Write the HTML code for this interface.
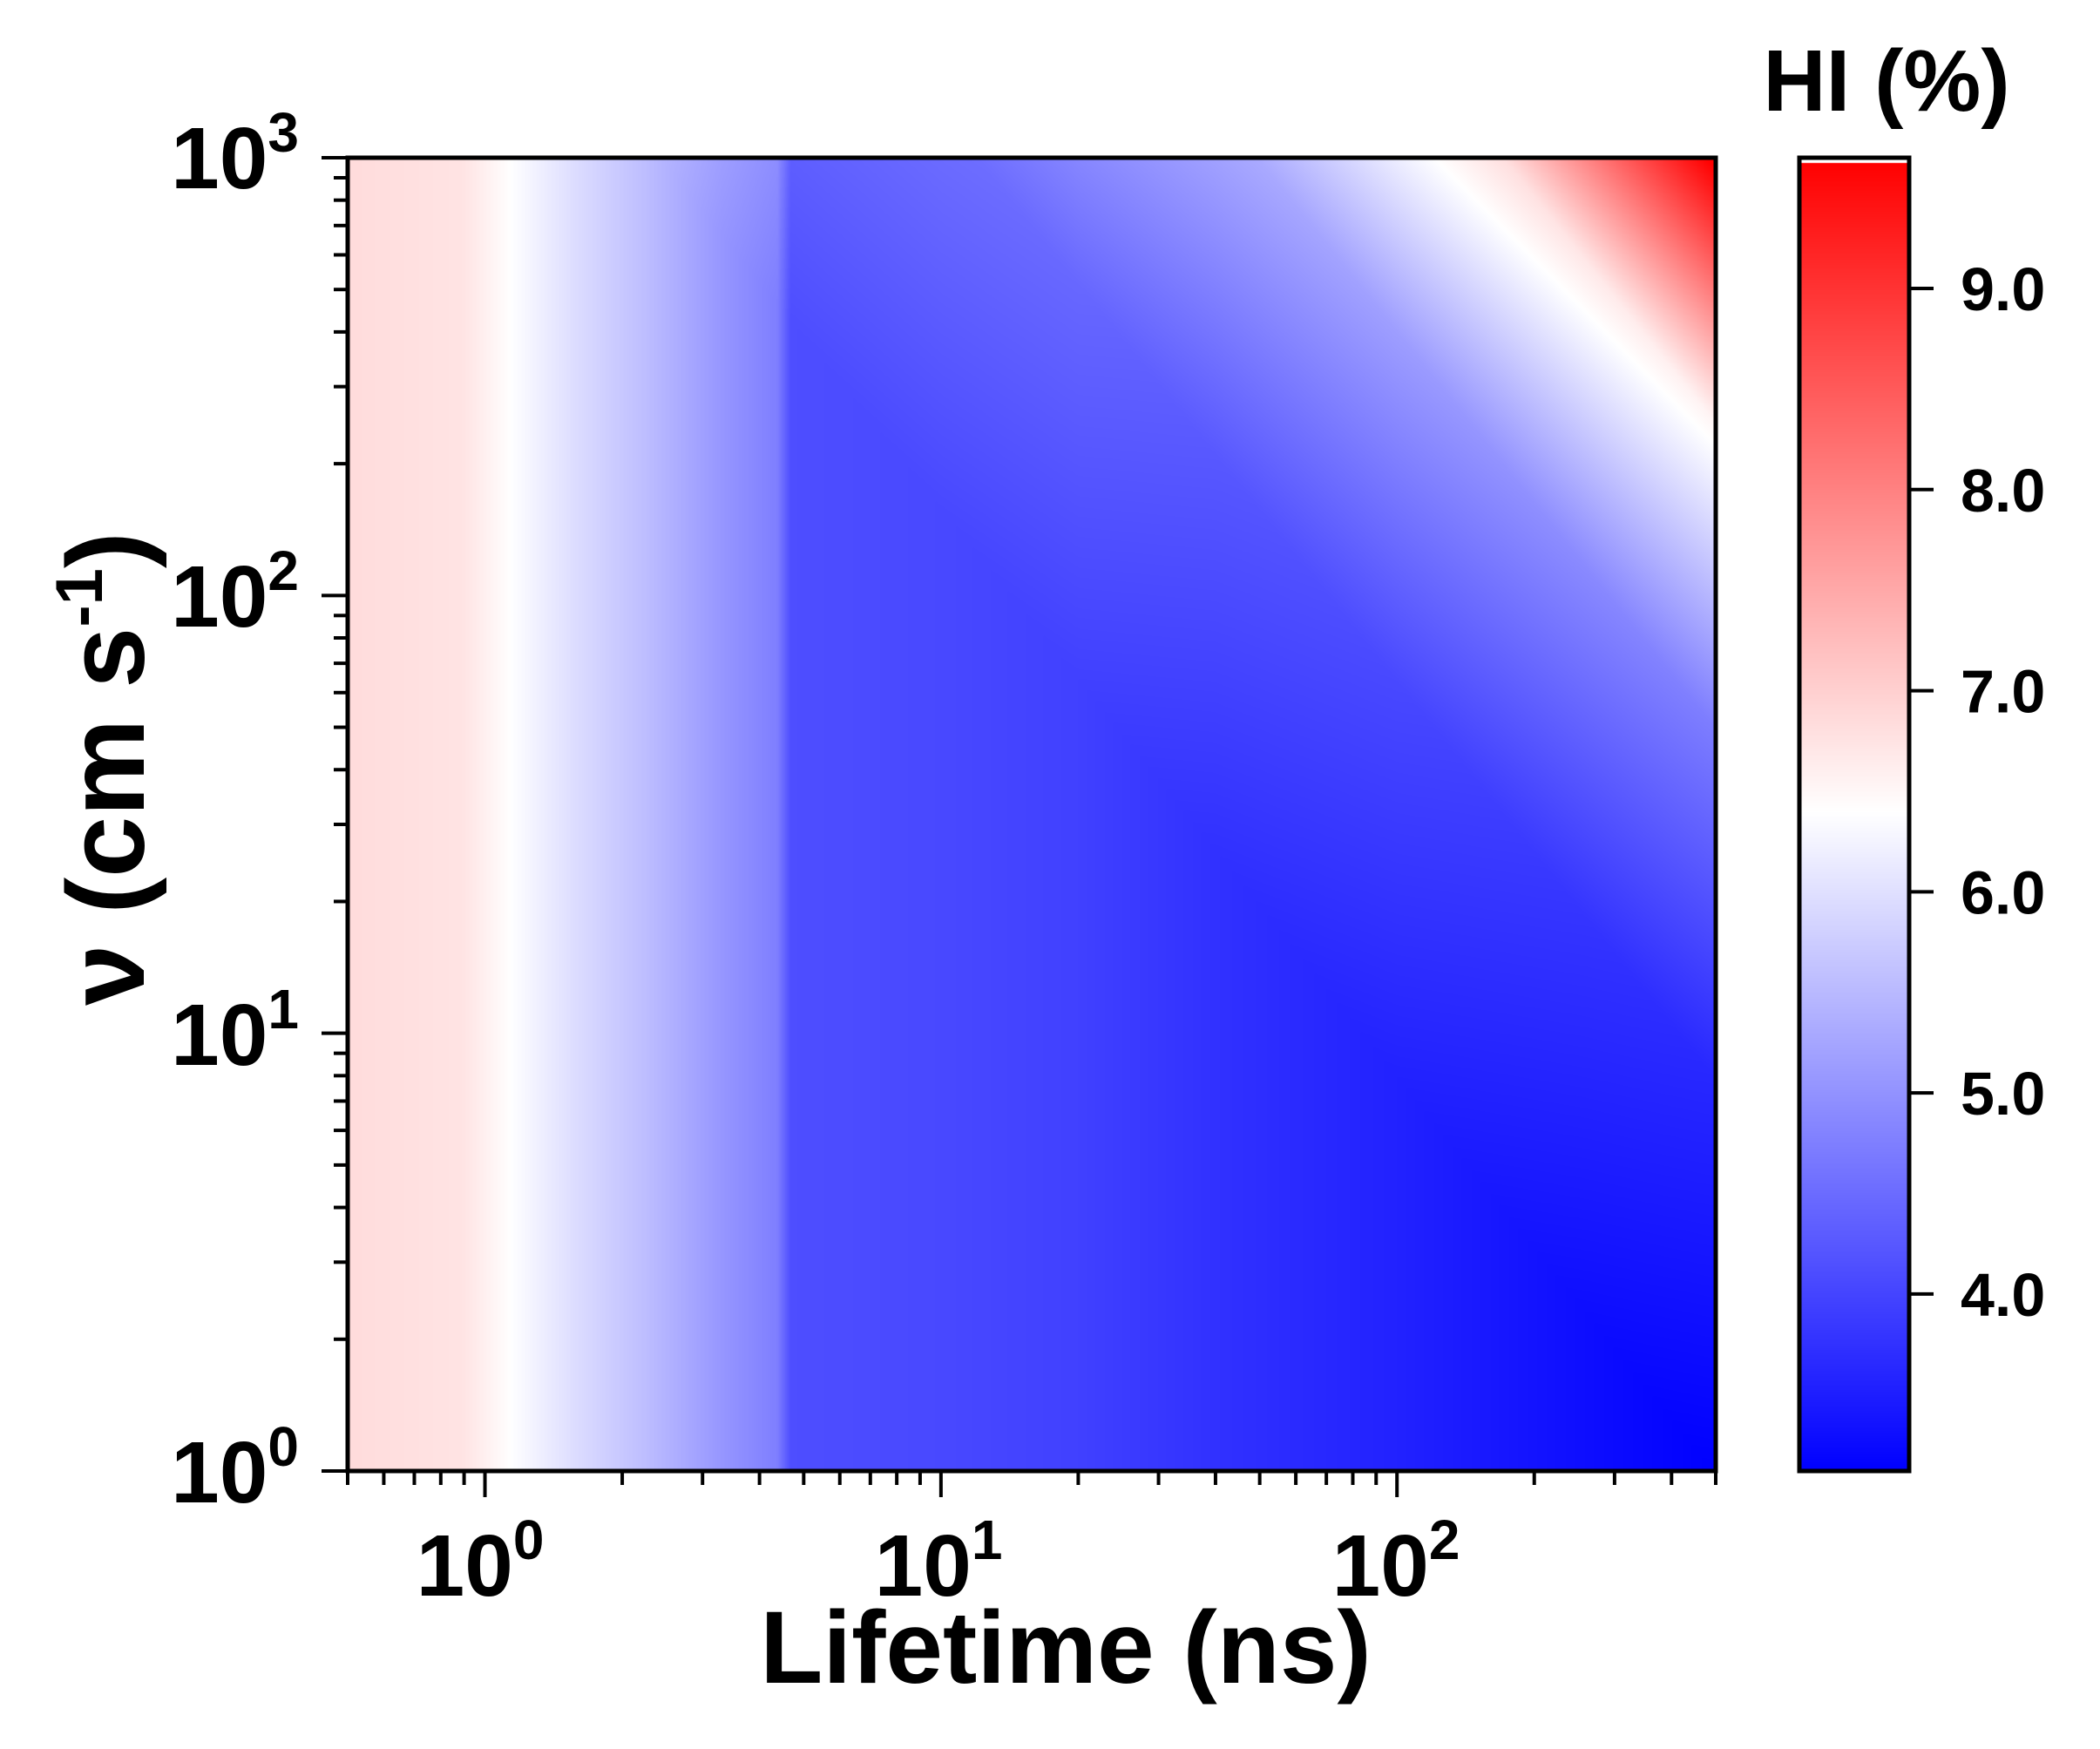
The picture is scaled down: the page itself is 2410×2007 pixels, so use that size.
<!DOCTYPE html>
<html><head><meta charset="utf-8"><style>
html,body{margin:0;padding:0;background:#fff;}
#wrap{position:relative;width:2410px;height:2007px;overflow:hidden;}
canvas,svg{position:absolute;left:0;top:0;}
</style></head><body><div id="wrap">
<canvas id="c" width="2410" height="2007"></canvas>
<svg width="2410" height="2007" xmlns="http://www.w3.org/2000/svg" font-family="Liberation Sans, Arial, sans-serif" font-weight="bold">
<g id="ticks" stroke="#000" stroke-width="4"></g>
<rect x="399" y="181" width="1570" height="1507" fill="none" stroke="#000" stroke-width="5"/>
<rect x="2065" y="181" width="126" height="1507" fill="none" stroke="#000" stroke-width="5"/>
<g font-size="100" text-anchor="end">
<text x="343" y="216">10<tspan font-size="64" dy="-42">3</tspan></text>
<text x="343" y="719">10<tspan font-size="64" dy="-42">2</tspan></text>
<text x="343" y="1222">10<tspan font-size="64" dy="-42">1</tspan></text>
<text x="343" y="1724">10<tspan font-size="64" dy="-42">0</tspan></text>
</g>
<g font-size="100" text-anchor="middle">
<text x="551" y="1831">10<tspan font-size="64" dy="-42">0</tspan></text>
<text x="1077" y="1831">10<tspan font-size="64" dy="-42">1</tspan></text>
<text x="1602" y="1831">10<tspan font-size="64" dy="-42">2</tspan></text>
</g>
<text x="1223" y="1931" font-size="118" text-anchor="middle">Lifetime (ns)</text>
<text transform="translate(165,882) rotate(-90)" font-size="126" text-anchor="middle">ν (cm s<tspan font-size="76" dy="-48">-1</tspan><tspan dy="48">)</tspan></text>
<text x="2165" y="127" font-size="100" text-anchor="middle">HI (%)</text>
<g font-size="70" id="cbl"></g>
</svg>
</div>
<script>
const L=399,R=1969,T=181,B=1688;
const x0=Math.log10(0.5),x1=Math.log10(500);
const cmin=3.12,cmid=6.4,cmax=9.65;
function interp(p,x){if(x<=p[0][0])return p[0][1];for(let i=1;i<p.length;i++){if(x<=p[i][0]){const a=p[i-1],b=p[i];return a[1]+(b[1]-a[1])*(x-a[0])/(b[0]-a[0]);}}return p[p.length-1][1];}
const base=[[-0.3,6.85],[-0.05,6.75],[0.055,6.4],[0.2,5.95],[0.35,5.56],[0.52,5.05],[0.64,4.75],[0.67,4.12],[1.0,4.05],[1.3,3.95],[1.6,3.75],[2.0,3.55],[2.4,3.3],[2.7,3.12]];
const gp=[[3.5,0],[4.4,0.5],[5.2,1.6],[5.55,2.5],[5.9,3.4],[6.5,6.6]];
function col(v){if(v<=cmid){let t=Math.max(0,(v-cmin)/(cmid-cmin));return[255*t,255*t,255];}let t=Math.min(1,(v-cmid)/(cmax-cmid));return[255,255*(1-t),255*(1-t)];}
const cv=document.getElementById('c'),ctx=cv.getContext('2d');
const W=R-L,H=B-T,img=ctx.createImageData(W,H);
for(let j=0;j<H;j++){const lv=3*(1-j/H);for(let i=0;i<W;i++){const lt=x0+(x1-x0)*i/W;let v=interp(base,lt)+interp(gp,1.3*lt+lv);const c=col(v);const k=(j*W+i)*4;img.data[k]=c[0];img.data[k+1]=c[1];img.data[k+2]=c[2];img.data[k+3]=255;}}
ctx.putImageData(img,L,T);
const CL=2065,CR=2191,cimg=ctx.createImageData(CR-CL,H);
for(let j=0;j<H;j++){const v=cmax-(cmax-cmin)*j/H;const c=col(v);for(let i=0;i<CR-CL;i++){const k=(j*(CR-CL)+i)*4;cimg.data[k]=c[0];cimg.data[k+1]=c[1];cimg.data[k+2]=c[2];cimg.data[k+3]=255;}}
ctx.putImageData(cimg,CL,T);
ctx.fillStyle='#fff';ctx.fillRect(CL,T,CR-CL,6);
const ns='http://www.w3.org/2000/svg',tg=document.getElementById('ticks');
function line(a,b,c,d){const l=document.createElementNS(ns,'line');l.setAttribute('x1',a);l.setAttribute('y1',b);l.setAttribute('x2',c);l.setAttribute('y2',d);tg.appendChild(l);}
for(let d=0;d<3;d++)for(let m=1;m<10;m++){const y=B-(d+Math.log10(m))*H/3;line(L,y,L-(m==1?30:16),y);}
line(L,T,L-30,T);
for(let d=-1;d<3;d++)for(let m=1;m<10;m++){const val=Math.pow(10,d)*m;if(val<0.5||val>500.01)continue;const x=L+(Math.log10(val)-x0)/(x1-x0)*W;line(x,B,x,B+(m==1?30:16));}
const cb=document.getElementById('cbl');
for(let v=4;v<=9;v++){const y=B-(v-cmin)/(cmax-cmin)*H;line(CR,y,CR+28,y);const t=document.createElementNS(ns,'text');t.setAttribute('x',2250);t.setAttribute('y',y+25);t.textContent=v.toFixed(1);cb.appendChild(t);}
</script>
</body></html>
